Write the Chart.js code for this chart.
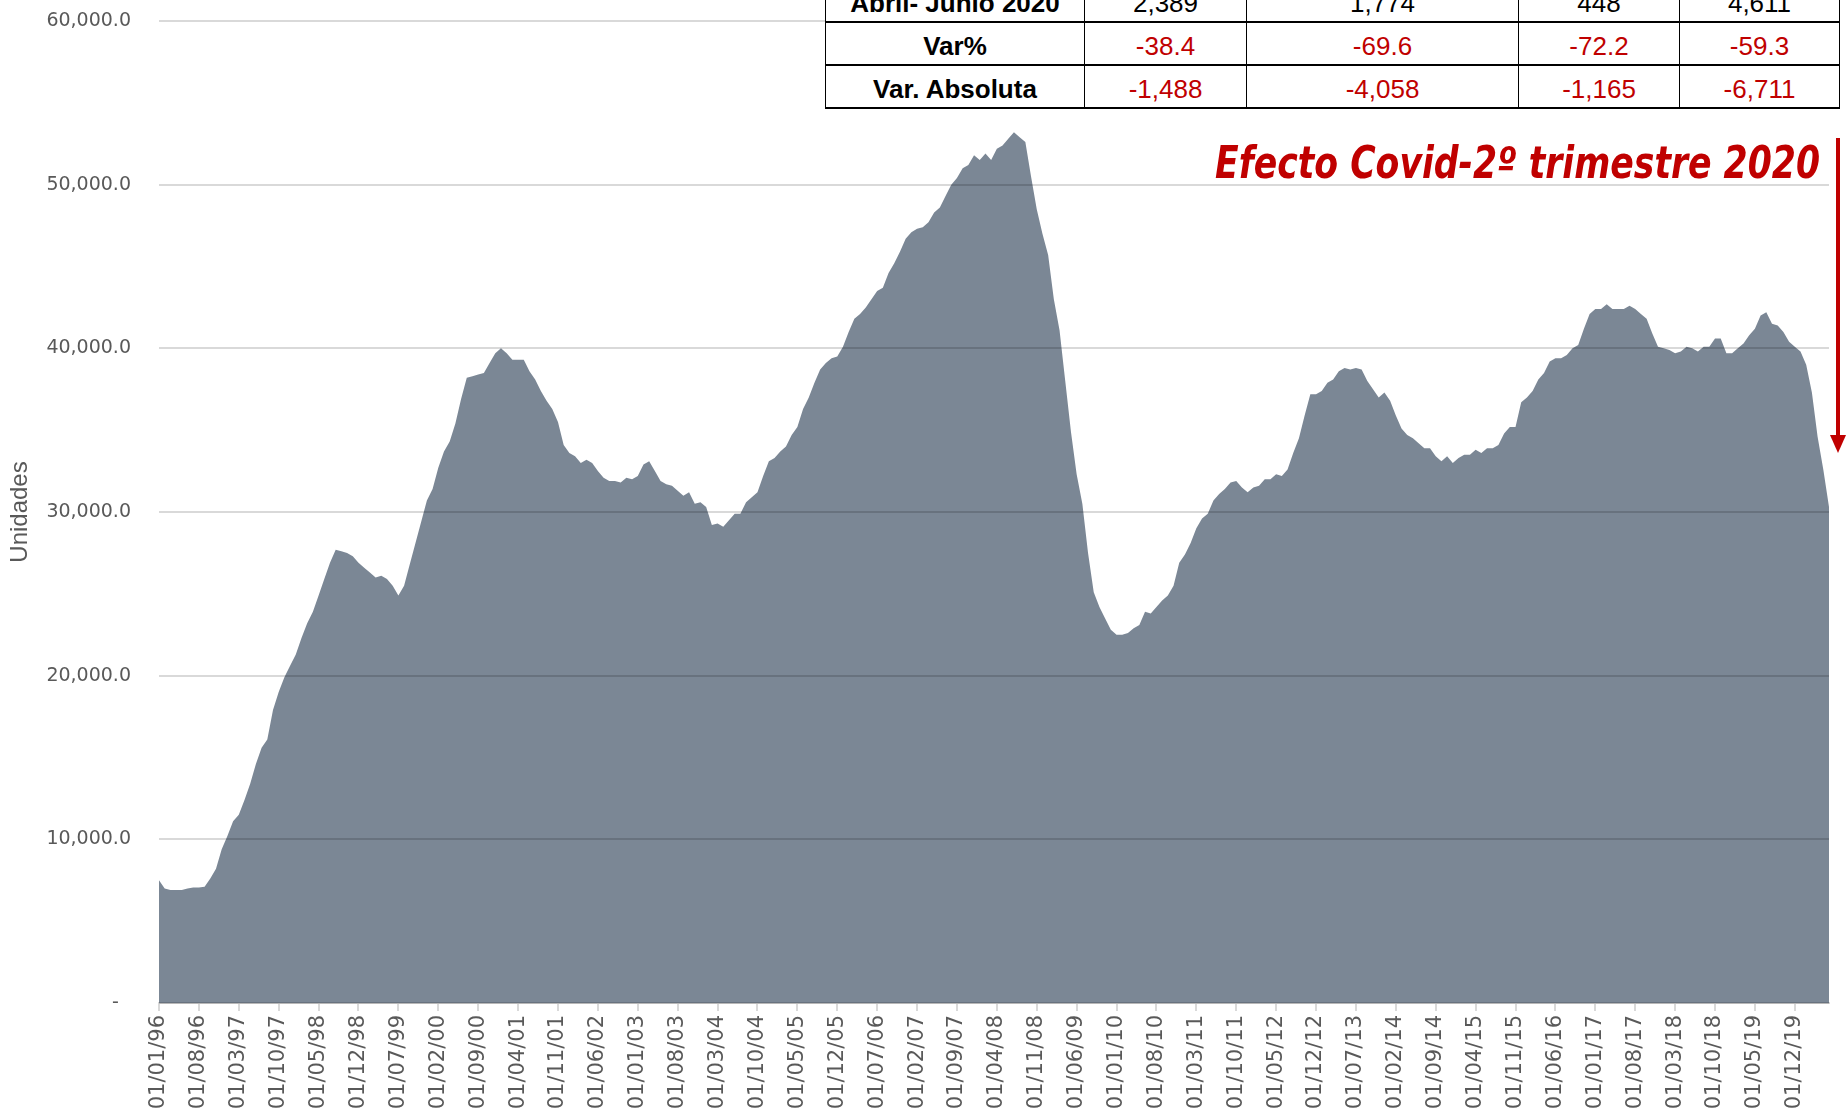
<!DOCTYPE html>
<html lang="es">
<head>
<meta charset="utf-8">
<title>Unidades</title>
<script src="https://cdn.jsdelivr.net/npm/chart.js@4.4.1/dist/chart.umd.min.js"></script>
<style>
  html, body { margin: 0; padding: 0; background: #fff; }
  #wrap { position: relative; width: 1847px; height: 1112px; overflow: hidden; }
  #grafico { position: absolute; left: 0; top: 0; }
  #tabla {
    position: absolute; left: 825px; top: -20px;
    border-collapse: collapse; table-layout: fixed; background: #fff;
    font-family: 'Liberation Sans', Arial, sans-serif; font-size: 26px;
  }
  #tabla td {
    border-left: 1px solid #000; border-right: 1px solid #000; border-bottom: 2px solid #000;
    text-align: center; vertical-align: middle; padding: 5px 0 0 0; height: 36px; line-height: 26px;
  }
  #tabla td.etq { font-weight: bold; color: #000; }
  #tabla td.neg { color: #c00000; }
</style>
</head>
<body>
<div id="wrap">
  <canvas id="grafico" width="1847" height="1112"></canvas>
  <table id="tabla">
    <colgroup>
      <col style="width:259px"><col style="width:162px"><col style="width:272px"><col style="width:161px"><col style="width:160px">
    </colgroup>
    <tbody id="cuerpo"></tbody>
  </table>
</div>
<script>
// Serie mensual desde 01/01/96 hasta 01/06/20
const inicioAnio = 1996;
const inicioMes = 1;
const unidades = [
  7500, 7000, 6900, 6900, 6900, 7000, 7050, 7050, 7100, 7600, 8200, 9400,
  10200, 11100, 11500, 12400, 13400, 14600, 15600, 16100, 17900, 19000, 19900, 20600,
  21300, 22300, 23200, 23900, 24900, 25900, 26900, 27700, 27600, 27500, 27300, 26900,
  26600, 26300, 26000, 26100, 25900, 25500, 24900, 25500, 26800, 28100, 29400, 30700,
  31400, 32700, 33700, 34300, 35400, 36900, 38200, 38300, 38400, 38500, 39100, 39700,
  40000, 39700, 39300, 39300, 39300, 38600, 38100, 37400, 36800, 36300, 35500, 34100,
  33600, 33400, 33000, 33200, 33000, 32500, 32100, 31900, 31900, 31800, 32100, 32000,
  32200, 32900, 33100, 32500, 31900, 31700, 31600, 31300, 31000, 31200, 30500, 30600,
  30300, 29200, 29300, 29100, 29500, 29900, 29900, 30600, 30900, 31200, 32200, 33100,
  33300, 33700, 34000, 34700, 35200, 36300, 37000, 37900, 38700, 39100, 39400, 39500,
  40100, 41000, 41800, 42100, 42500, 43000, 43500, 43700, 44600, 45200, 45900, 46700,
  47100, 47300, 47400, 47700, 48300, 48600, 49300, 50000, 50400, 51000, 51200, 51800,
  51500, 51900, 51500, 52200, 52400, 52800, 53200, 52900, 52600, 50500, 48500, 47000,
  45700, 43000, 41100, 38000, 34900, 32300, 30500, 27500, 25100, 24200, 23500, 22800,
  22500, 22500, 22600, 22900, 23100, 23900, 23800, 24200, 24600, 24900, 25500, 26900,
  27400, 28100, 29000, 29600, 29900, 30700, 31100, 31400, 31800, 31900, 31500, 31200,
  31500, 31600, 32000, 32000, 32300, 32200, 32600, 33600, 34500, 35900, 37200, 37200,
  37400, 37900, 38100, 38600, 38800, 38700, 38800, 38700, 38000, 37500, 37000, 37300,
  36800, 35900, 35100, 34700, 34500, 34200, 33900, 33900, 33400, 33100, 33400, 33000,
  33300, 33500, 33500, 33800, 33600, 33900, 33900, 34100, 34800, 35200, 35200, 36700,
  37000, 37400, 38100, 38500, 39200, 39400, 39400, 39600, 40000, 40200, 41200, 42100,
  42400, 42400, 42700, 42400, 42400, 42400, 42600, 42400, 42100, 41800, 40900, 40100,
  40000, 39900, 39700, 39800, 40100, 40000, 39800, 40100, 40100, 40600, 40600, 39700,
  39700, 40000, 40300, 40800, 41200, 42000, 42200, 41500, 41400, 41000, 40400, 40100,
  39800, 39000, 37300, 34600, 32600, 30300
];

// Tabla resumen (la fila de cabecera queda fuera del gráfico)
const filaAbrilJunio = ['2,389', '1,774', '448', '4,611'];
const filaVarPct = ['-38.4', '-69.6', '-72.2', '-59.3'];
const filaVarAbs = ['-1,488', '-4,058', '-1,165', '-6,711'];

const tituloCovid = 'Efecto Covid-2º trimestre 2020';

// Etiquetas "01/MM/YY"
const meses = [];
for (let i = 0; i < unidades.length; i++) {
  const m = (inicioMes - 1 + i) % 12 + 1;
  const a = inicioAnio + Math.floor((inicioMes - 1 + i) / 12);
  meses.push('01/' + String(m).padStart(2, '0') + '/' + String(a % 100).padStart(2, '0'));
}

/* Tabla */
const cuerpo = document.getElementById('cuerpo');
function fila(etiqueta, valores, rojo) {
  let html = `<tr><td class="etq">${etiqueta}</td>`;
  for (const v of valores) html += `<td class="${rojo ? 'neg' : ''}">${v}</td>`;
  cuerpo.insertAdjacentHTML('beforeend', html + '</tr>');
}
fila('Abril- Junio 2020', filaAbrilJunio, false);
fila('Var%', filaVarPct, true);
fila('Var. Absoluta', filaVarAbs, true);

/* Flecha y texto rojo */
const anotacion = {
  id: 'anotacion',
  afterDraw(chart) {
    const ctx = chart.ctx;
    ctx.save();
    ctx.fillStyle = '#c00000';
    ctx.strokeStyle = '#c00000';

    // texto alto y estrecho, ajustado al ancho del original
    const familia = "'DejaVu Sans Condensed', 'Liberation Sans Narrow', 'Liberation Sans', sans-serif";
    ctx.font = `italic bold 44px ${familia}`;
    const escala = 605 / ctx.measureText(tituloCovid).width;
    ctx.textAlign = 'right';
    ctx.textBaseline = 'alphabetic';
    ctx.translate(1820, 178);
    ctx.scale(escala, 1);
    ctx.fillText(tituloCovid, 0, 0);
    ctx.setTransform(1, 0, 0, 1, 0, 0);

    ctx.lineWidth = 4;
    ctx.beginPath();
    ctx.moveTo(1838, 138);
    ctx.lineTo(1838, 438);
    ctx.stroke();
    ctx.beginPath();
    ctx.moveTo(1830, 435);
    ctx.lineTo(1846, 435);
    ctx.lineTo(1838, 453);
    ctx.closePath();
    ctx.fill();
    ctx.restore();
  }
};

/* Gráfico */
new Chart(document.getElementById('grafico'), {
  type: 'line',
  data: {
    labels: meses,
    datasets: [{
      label: 'Unidades',
      data: unidades,
      fill: 'origin',
      backgroundColor: 'rgb(123,135,149)',
      borderWidth: 0,
      pointRadius: 0,
      tension: 0
    }]
  },
  options: {
    responsive: false,
    animation: false,
    devicePixelRatio: 1,
    layout: { padding: { top: 21, right: 18, left: 0, bottom: 0 } },
    plugins: {
      legend: { display: false },
      tooltip: { enabled: false }
    },
    scales: {
      x: {
        ticks: {
          autoSkip: false,
          minRotation: 90,
          maxRotation: 90,
          padding: 4,
          color: '#595959',
          font: { family: 'DejaVu Sans', size: 21 },
          callback(v, i) { return i % 7 === 0 ? this.getLabelForValue(v) : null; }
        },
        grid: { drawOnChartArea: false, color: '#d9d9d9', lineWidth: 2, tickLength: 8 },
        border: { color: '#d9d9d9', width: 2 },
        afterFit(scale) { scale.height = 109; }
      },
      y: {
        min: 0,
        max: 60000,
        ticks: {
          stepSize: 10000,
          padding: 28,
          color: '#595959',
          font: { family: 'DejaVu Sans', size: 19 },
          callback: v => v === 0 ? '-  ' : v.toLocaleString('en-US', { minimumFractionDigits: 1, maximumFractionDigits: 1 })
        },
        grid: { color: 'rgba(0,0,0,0.15)', lineWidth: 2, drawTicks: false, z: 1 },
        border: { display: false },
        title: {
          display: true,
          text: 'Unidades',
          color: '#595959',
          font: { family: "'Liberation Sans Narrow', 'Liberation Sans', sans-serif", size: 24 },
          padding: { top: 6, bottom: 0 }
        },
        afterFit(scale) {
          scale.width = 159;
          scale.paddingTop = 0;
          scale.paddingBottom = 0;
        }
      }
    }
  },
  plugins: [anotacion]
});
</script>
</body>
</html>
